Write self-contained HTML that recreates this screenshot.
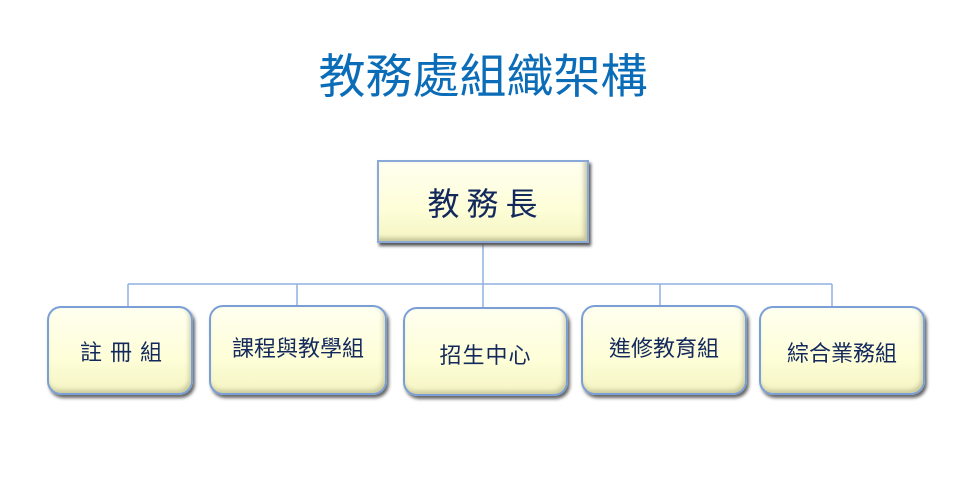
<!DOCTYPE html>
<html><head><meta charset="utf-8"><style>
body{margin:0;width:960px;height:480px;background:#fff;position:relative;overflow:hidden;font-family:"Liberation Sans","Noto Sans CJK TC",sans-serif}
.t{position:absolute;left:0;width:966px;top:47px;text-align:center;font-size:47px;color:#0b6cb8;line-height:60px}
.b{position:absolute;box-sizing:border-box;background:linear-gradient(#fffff0,#fefed8 60%,#f4f4c4);border:2px solid #7a9fd6;border-radius:14px;box-shadow:2px 3px 3px #666, inset -2px -3px 4px rgba(120,120,80,.35);display:flex;align-items:center;justify-content:center;color:#13295c;font-size:22px}
.top{border-radius:0;border:2px solid #8aa8d8;font-size:32px;letter-spacing:7px;padding-left:6px;box-shadow:2px 3px 3px #555, inset -3px -3px 4px rgba(120,120,80,.4)}
</style></head><body>
<div class="t">教務處組織架構</div>
<svg width="960" height="480" style="position:absolute;left:0;top:0">
<g stroke="#8fb0e0" stroke-width="1.5" fill="none">
<line x1="483" y1="243" x2="483" y2="307"/>
<line x1="128" y1="284" x2="832" y2="284"/>
<line x1="128" y1="284" x2="128" y2="307"/>
<line x1="297" y1="284" x2="297" y2="307"/>
<line x1="660" y1="284" x2="660" y2="307"/>
<line x1="832" y1="284" x2="832" y2="307"/>
</g></svg>
<div class="b top" style="left:377px;top:160px;width:212px;height:83px">教務長</div>
<div class="b" style="left:47px;top:306px;width:146px;height:89px;letter-spacing:8px;padding-left:10px">註冊組</div>
<div class="b" style="left:209px;top:305px;width:178px;height:90px;padding-bottom:6px">課程與教學組</div>
<div class="b" style="left:403px;top:307px;width:165px;height:89px;padding-top:4px;letter-spacing:1px">招生中心</div>
<div class="b" style="left:581px;top:305px;width:166px;height:90px;padding-bottom:6px">進修教育組</div>
<div class="b" style="left:759px;top:306px;width:166px;height:89px;padding-top:2px">綜合業務組</div>
</body></html>
